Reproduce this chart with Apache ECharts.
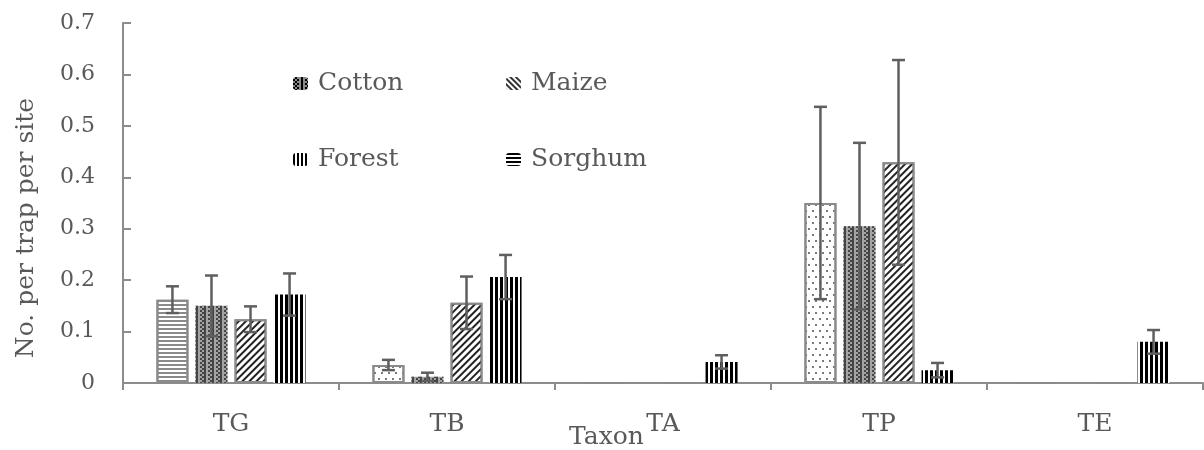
<!DOCTYPE html>
<html>
<head>
<meta charset="utf-8">
<script src="https://cdn.jsdelivr.net/npm/echarts@6/dist/echarts.min.js"></script>
<style>
  html, body { margin: 0; padding: 0; background: #fff; }
  #chart { width: 1204px; height: 450px; }
</style>
</head>
<body>
<div id="chart"></div>
<script>
// Taxon groups along the x axis
const categories = ['TG', 'TB', 'TA', 'TP', 'TE'];
const yTicks = [0, 0.1, 0.2, 0.3, 0.4, 0.5, 0.6, 0.7];

// Mean catch per trap per site and the error (half-range) for each habitat
const sorghum    = [0.162, 0.035, 0, 0.350, 0];
const sorghumErr = [0.026, 0.010, 0, 0.187, 0];
const cotton     = [0.150, 0.012, 0, 0.305, 0];
const cottonErr  = [0.059, 0.008, 0, 0.162, 0];
const maize      = [0.124, 0.156, 0, 0.429, 0];
const maizeErr   = [0.025, 0.051, 0, 0.199, 0];
const forest     = [0.172, 0.206, 0.041, 0.025, 0.080];
const forestErr  = [0.041, 0.043, 0.013, 0.014, 0.023];

const FONT = 'DejaVu Serif';
const TEXT = '#595959';
const AXIS = '#8c8c8c';
const BAR_W = 32;
const GAP = 0.22;

// Fill patterns
const decalHoriz = { symbol: 'rect', symbolSize: 1, dashArrayX: [1, 0], dashArrayY: [2, 2], color: '#8a8a8a' };
const decalDots = { symbol: 'rect', symbolSize: 1, dashArrayX: [[1.3, 4.5], [0, 2.9, 1.3, 1.6]], dashArrayY: [1.3, 3.5], color: '#7a7a7a' };
const decalCheck = { symbol: 'rect', symbolSize: 1, dashArrayX: [[2, 2], [0, 2, 2]], dashArrayY: [2, 0], color: '#444' };
const decalDiag = { symbol: 'rect', symbolSize: 1, dashArrayX: [1, 0], dashArrayY: [1.6, 3], rotation: -Math.PI / 4, color: '#222' };
const decalVert = { symbol: 'rect', symbolSize: 1, dashArrayX: [2.2, 1.3], dashArrayY: [1, 0], color: '#000' };

// Legend swatches use darker versions of the fills
const legendDecals = {
  Cotton: { symbol: 'rect', symbolSize: 1, dashArrayX: [[2, 1.5], [0, 1.7, 2, 1.5]], dashArrayY: [1.7, 0], color: '#000' },
  Maize: { symbol: 'rect', symbolSize: 1, dashArrayX: [1, 0], dashArrayY: [1.2, 1.6], rotation: Math.PI / 4, color: '#333' },
  Forest: { symbol: 'rect', symbolSize: 1, dashArrayX: [1.6, 1.1], dashArrayY: [1, 0], color: '#000' },
  Sorghum: { symbol: 'rect', symbolSize: 1, dashArrayX: [1, 0], dashArrayY: [1.3, 1.1], color: '#000' }
};
const legendFill = { Cotton: '#8a8a8a', Maize: '#fff', Forest: '#fff', Sorghum: '#fff' };

const groups = [
  { name: 'Sorghum', values: sorghum, errs: sorghumErr,
    style: { color: '#fff', borderColor: '#8a8a8a', borderWidth: 2, decal: decalHoriz },
    // first bar of TB and TP is dotted
    itemOverride: { 1: decalDots, 3: decalDots } },
  { name: 'Cotton', values: cotton, errs: cottonErr,
    style: { color: '#a4a4a4', borderWidth: 0, decal: decalCheck } },
  { name: 'Maize', values: maize, errs: maizeErr,
    style: { color: '#fff', borderColor: '#8a8a8a', borderWidth: 2, decal: decalDiag } },
  { name: 'Forest', values: forest, errs: forestErr,
    style: { color: '#fff', borderWidth: 0, decal: decalVert } }
];

const barSeries = groups.map(g => ({
  name: g.name,
  type: 'bar',
  barWidth: BAR_W,
  barGap: (GAP * 100) + '%',
  itemStyle: g.style,
  data: g.values.map((v, i) => {
    if (g.itemOverride && g.itemOverride[i]) {
      return { value: v, itemStyle: { decal: g.itemOverride[i] } };
    }
    return v;
  })
}));

const errData = [];
groups.forEach((g, pos) => {
  g.values.forEach((v, i) => {
    if (v > 0) errData.push([i, v, g.errs[i], pos]);
  });
});

const errorSeries = {
  type: 'custom',
  name: 'error',
  z: 10,
  silent: true,
  data: errData,
  encode: { x: 0, y: 1 },
  renderItem: function (params, api) {
    const ci = api.value(0), v = api.value(1), e = api.value(2), pos = api.value(3);
    const top = api.coord([ci, v + e]);
    const bot = api.coord([ci, Math.max(0, v - e)]);
    const dx = (pos - (groups.length - 1) / 2) * BAR_W * (1 + GAP);
    const x = top[0] + dx;
    const cap = 6.5;
    const st = { stroke: '#5f5f5f', lineWidth: 2.5 };
    return {
      type: 'group',
      children: [
        { type: 'line', shape: { x1: x, y1: top[1], x2: x, y2: bot[1] }, style: st },
        { type: 'line', shape: { x1: x - cap, y1: top[1], x2: x + cap, y2: top[1] }, style: st },
        { type: 'line', shape: { x1: x - cap, y1: bot[1], x2: x + cap, y2: bot[1] }, style: st }
      ]
    };
  }
};

function legendAt(name, left, top) {
  return {
    data: [{ name: name, itemStyle: { decal: legendDecals[name], color: legendFill[name], borderWidth: 0 } }],
    left: left, top: top,
    padding: 0,
    itemWidth: 15, itemHeight: 13,
    itemStyle: { borderWidth: 0 },
    textStyle: { fontFamily: FONT, fontSize: 25, color: TEXT, padding: [0, 0, 0, 5] },
    selectedMode: false
  };
}

const chart = echarts.init(document.getElementById('chart'), null, { renderer: 'canvas' });
chart.setOption({
  animation: false,
  backgroundColor: '#fff',
  grid: { left: 123, right: 1, top: 23, bottom: 67, containLabel: false },
  legend: [
    legendAt('Cotton', 293, 71),
    legendAt('Maize', 506, 71),
    legendAt('Forest', 293, 147),
    legendAt('Sorghum', 506, 147)
  ],
  title: {
    text: 'Taxon',
    left: 569, top: 425,
    padding: 0,
    textStyle: { fontFamily: FONT, fontSize: 25, fontWeight: 'normal', color: TEXT }
  },
  graphic: [{
    type: 'text',
    x: 26, y: 228,
    rotation: Math.PI / 2,
    style: {
      text: 'No. per trap per site',
      font: '25px "' + FONT + '"',
      fill: TEXT,
      align: 'center',
      verticalAlign: 'middle'
    }
  }],
  xAxis: {
    type: 'category',
    data: categories,
    axisLine: { lineStyle: { color: AXIS, width: 2 } },
    axisTick: { show: true, inside: false, length: 7, lineStyle: { color: AXIS, width: 2 } },
    axisLabel: { fontFamily: FONT, fontSize: 25, color: TEXT, margin: 29 },
    splitLine: { show: false }
  },
  yAxis: {
    type: 'value',
    min: yTicks[0], max: yTicks[yTicks.length - 1], interval: 0.1,
    axisLine: { show: true, lineStyle: { color: AXIS, width: 2 } },
    axisTick: { show: true, inside: true, length: 8, lineStyle: { color: AXIS, width: 2 } },
    axisLabel: {
      fontFamily: FONT, fontSize: 22, color: TEXT, margin: 28,
      formatter: v => (v === 0 ? '0' : v.toFixed(1))
    },
    splitLine: { show: false }
  },
  series: barSeries.concat([errorSeries])
});
</script>
</body>
</html>
